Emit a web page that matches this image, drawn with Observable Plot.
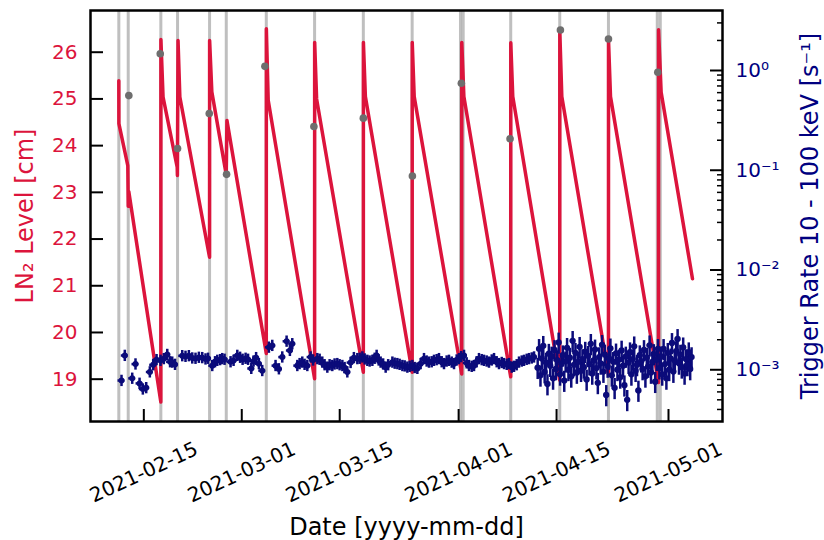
<!DOCTYPE html>
<html><head><meta charset="utf-8">
<script src="https://cdn.jsdelivr.net/npm/d3@7"></script>
<script src="https://cdn.jsdelivr.net/npm/@observablehq/plot@0.6"></script>
<style>
body{margin:0;background:#fff;font-family:"DejaVu Sans",sans-serif;}
#wrap{position:relative;width:824px;height:540px;}
#wrap svg{position:absolute;left:0;top:0;}
</style></head><body><div id="wrap"></div>
<script>
// All day offsets are relative to 2021-02-15 00:00 UTC
const BASE = Date.UTC(2021, 1, 15);
const toDate = d => new Date(BASE + d * 864e5);

// x-axis ticks
const dateTickLabels = ["2021-02-15","2021-03-01","2021-03-15","2021-04-01","2021-04-15","2021-05-01"];
// left axis ticks
const levelTicks = [19,20,21,22,23,24,25,26];
// right axis ticks
const rateMajorTicks = [1e-3, 1e-2, 1e-1, 1];
const rateTickLabels = ["10⁻³","10⁻²","10⁻¹","10⁰"];

// LN2 level (cm)
const lnDay = [-3.575,-3.565,-2.29,-2.23,-2.15,2.431, 2.44,2.75,4.77,4.80, 4.89,5.15,9.397, 9.405,9.72,11.78,11.88,17.506,
  17.515,17.78,24.41, 24.42,24.70,31.378, 31.388,31.67,38.358, 38.368,38.65,45.44, 45.45,45.75,52.445,
  52.455,52.74,59.453, 59.463,59.75,66.418, 66.428,66.71,73.57, 73.58,73.95,78.43];
const lnLevel = [25.39,24.47,23.57,22.70,23.02,18.51, 26.27,25.04,23.54,23.36, 26.25,25.04,21.61, 26.25,25.15,23.38,24.54,19.55,
  26.50,24.97,19.01, 26.21,25.00,19.15, 26.21,25.05,19.15, 26.21,25.05,19.11, 26.21,25.05,19.05,
  26.20,25.05,18.98, 26.44,25.05,19.10, 26.25,25.05,18.93, 26.48,25.14,21.15];

// calibration periods (vertical gray lines)
const calDay = [-3.575,-2.231,2.431,4.82,9.397,11.785,17.506,24.41,31.378,38.358,45.266,45.652,52.445,59.453,66.418,73.397,73.826];
// calibration rates (gray dots), s^-1
const calDotDay = [-2.145,2.346,4.82,9.353,11.83,17.31,24.31,31.38,38.39,45.39,52.35,59.55,66.42,73.47];
const calDotRate = [0.56,1.47,0.165,0.37,0.091,1.10,0.275,0.333,0.0877,0.746,0.207,2.55,2.07,0.96];

// trigger rate 10-100 keV, in units of 1e-3 s^-1 — long bins
const rateDayA = [-3.19,-2.72,-1.66,-1.19,-0.61,-0.14,0.34,0.86,1.34,1.82,2.39,2.86,3.35,3.75,4.06,4.46,5.49,5.96,6.44,6.92,
  7.39,7.87,8.35,8.82,9.18,9.78,10.18,10.50,10.90,11.21,11.54,12.40,12.83,13.36,13.76,14.12,14.55,14.90,15.36,15.69,
  16.05,16.45,16.93,17.88,18.36,18.83,19.31,19.79,20.41,20.88,21.22,21.94,22.27,22.65,22.98,23.37,23.84,24.20,24.80,25.13,
  25.51,25.84,26.23,26.56,26.94,27.27,27.66,27.99,28.38,28.70,29.09,29.56,30.03,30.52,30.85,31.24,31.57,31.95,32.28,32.67,
  33.00,33.28,33.57,33.85,34.21,34.57,34.93,35.53,35.86,36.24,36.57,36.96,37.29,37.67,38.00,38.39,38.72,39.10,39.57,40.05,
  40.43,40.76,41.15,41.48,41.86,42.19,42.58,42.91,43.29,43.62,44.01,44.34,44.72,45.05,45.37,45.77,46.15,46.48,46.87,47.20,
  47.58,47.91,48.30,48.63,49.01,49.34,49.73,50.06,50.44,50.77,51.16,51.49,51.87,52.20,52.59,52.92,53.30,53.63,54.02,54.35,
  54.73,55.06,55.45,55.78];
const rateA = [0.78,1.39,0.82,1.14,0.73,0.64,0.66,0.95,1.12,1.26,1.24,1.29,1.42,1.20,1.19,1.13,1.38,1.36,1.38,1.31,
  1.30,1.33,1.32,1.28,1.30,1.10,1.20,1.24,1.26,1.29,1.27,1.20,1.24,1.39,1.33,1.27,1.30,1.27,1.03,1.22,
  1.32,1.15,0.98,1.68,1.75,1.10,1.02,1.34,1.93,1.56,1.82,1.10,1.15,1.19,1.13,1.10,1.34,1.25,1.29,1.27,
  1.19,1.12,1.06,1.12,1.10,1.14,1.15,1.12,1.10,1.05,0.95,1.18,1.32,1.29,1.30,1.34,1.28,1.24,1.22,1.24,
  1.30,1.39,1.25,1.19,1.14,1.06,1.12,1.19,1.16,1.15,1.13,1.10,1.09,1.06,1.08,1.10,1.05,1.03,1.15,1.29,
  1.22,1.19,1.20,1.24,1.26,1.29,1.20,1.15,1.22,1.24,1.19,1.15,1.25,1.29,1.35,1.39,1.17,1.10,1.08,1.10,
  1.20,1.29,1.26,1.24,1.22,1.19,1.25,1.29,1.20,1.15,1.18,1.15,1.13,1.15,1.06,1.08,1.12,1.19,1.22,1.24,
  1.27,1.29,1.31,1.34];
// short bins (from ~2021-04-08)
const rateDayB = [56.3,56.5,56.7,56.9,57.1,57.3,57.5,57.7,57.9,58.1, 58.3,58.5,58.7,58.9,59.1,59.3,59.5,59.7,59.9,60.1,
  60.3,60.5,60.7,60.9,61.1,61.3,61.5,61.7,61.9,62.1, 62.3,62.5,62.7,62.9,63.1,63.3,63.5,63.7,63.9,64.1,
  64.3,64.5,64.7,64.9,65.1,65.3,65.5,65.7,65.9,66.1, 66.3,66.5,66.7,66.9,67.1,67.3,67.5,67.7,67.9,68.1,
  68.3,68.5,68.7,68.9,69.1,69.3,69.5,69.7,69.9,70.1, 70.3,70.5,70.7,70.9,71.1,71.3,71.5,71.7,71.9,72.1,
  72.3,72.5,72.7,72.9,73.1,73.3,73.5,73.7,73.9,74.1, 74.3,74.5,74.7,74.9,75.1,75.3,75.5,75.7,75.9,76.1,
  76.3,76.5,76.7,76.9,77.1,77.3,77.5,77.7,77.9,78.1,78.3];
const rateB = [1.05,1.62,0.88,1.30,1.74,0.95,1.18,0.72,1.45,1.10, 1.36,0.82,1.58,1.02,1.25,1.88,0.90,1.15,1.40,0.78,
  1.22,1.66,1.00,1.32,0.86,1.95,1.12,1.48,0.94,1.20, 1.70,0.98,1.28,1.06,1.52,0.80,1.38,1.14,1.82,0.92,
  1.24,1.60,1.04,0.74,1.34,1.16,1.78,0.96,1.42,0.56, 1.08,1.30,1.64,0.88,1.20,0.66,1.46,1.00,1.26,0.84,
  1.56,1.10,0.70,1.36,0.50,1.18,1.50,0.90,1.28,1.72, 0.98,1.12,0.62,1.40,1.22,1.02,1.58,0.86,1.32,1.08,
  1.76,0.94,1.20,1.44,0.76,1.26,1.62,1.04,1.36,0.90, 1.62,1.14,0.82,1.48,1.00,1.30,1.86,0.96,1.24,1.54,
  2.04,1.16,1.42,1.06,1.68,0.92,1.28,1.12,1.50,1.02,1.34];
const RATE_UNIT = 1e-3;
const relErrA = 0.13, relErrB = 0.24;   // relative statistical errors
const halfBinA = 0.5, halfBinB = 0.35;  // half bin widths (days)

// ---- rows built from the arrays ----
const levelRows = lnDay.map((d, i) => ({t: toDate(d), v: lnLevel[i]}));
const calRows = calDay.map(toDate);
const calDotRows = calDotDay.map((d, i) => ({t: toDate(d), v: calDotRate[i]}));
const mk = (days, vals, e, h, r) => days.map((d, i) => {
  const v = vals[i] * RATE_UNIT;
  return {t: toDate(d), t1: toDate(d - h), t2: toDate(d + h), v, lo: v * (1 - e), hi: v * (1 + e), r};
});
const rateRows = mk(rateDayA, rateA, relErrA, halfBinA, 3).concat(mk(rateDayB, rateB, relErrB, halfBinB, 3.3));
const dateTicks = dateTickLabels.map(s => new Date(s + "T00:00:00Z"));
const minorTicks = [];
for (const dec of [1e-4, 1e-3, 1e-2, 1e-1, 1]) for (let k = 2; k <= 9; k++) {
  const v = k * dec; if (v > 3.03e-4 && v < 3.99) minorTicks.push(v);
}

const FONT = "'DejaVu Sans', sans-serif";
const NAVY = "#0b0b7a";
const common = {
  width: 824, height: 540, marginLeft: 90, marginRight: 102, marginTop: 10, marginBottom: 119,
  style: {fontFamily: FONT, background: "transparent", overflow: "visible"}
};
const xScale = {type: "utc", domain: [toDate(-7.623), toDate(82.72)]};

const levelPlot = Plot.plot({
  ...common,
  x: xScale,
  y: {domain: [18.094, 26.893]},
  marks: [
    Plot.ruleX(calRows, {x: d => d, stroke: "#808080", strokeOpacity: 0.5, strokeWidth: 3}),
    Plot.line(levelRows, {x: "t", y: "v", stroke: "#dc143c", strokeWidth: 3.5, strokeLinejoin: "round"}),
    Plot.axisY(levelTicks, {anchor: "left", tickSize: 13, dx: 13, tickFormat: () => "", label: null, stroke: "black", strokeWidth: 2}),
    Plot.axisY(levelTicks, {anchor: "left", tickSize: 0, tickPadding: 13, fontSize: 20, fill: "#dc143c", label: null}),
    Plot.axisX(dateTicks, {anchor: "bottom", tickSize: 12, dy: -12, tickFormat: () => "", label: null, stroke: "black", strokeWidth: 2}),
    Plot.text(dateTicks, {x: d => d, frameAnchor: "bottom", dy: 51, rotate: -25, text: (d, i) => dateTickLabels[i],
      fontSize: 20, fill: "black", textAnchor: "middle", lineAnchor: "middle"}),
    Plot.text(["Date [yyyy-mm-dd]"], {frameAnchor: "bottom", dy: 106, fontSize: 24, fill: "black", textAnchor: "middle", lineAnchor: "middle"}),
    Plot.text(["LN₂ Level [cm]"], {frameAnchor: "left", dx: -65, rotate: -90, fontSize: 24, fill: "#dc143c", textAnchor: "middle", lineAnchor: "middle"}),
    Plot.frame({stroke: "black", strokeWidth: 2.5})
  ]
});

const ratePlot = Plot.plot({
  ...common,
  x: {...xScale, axis: null},
  y: {type: "log", domain: [3.03e-4, 3.994]},
  marks: [
    Plot.ruleX(rateRows, {x: "t", y1: "lo", y2: "hi", stroke: NAVY, strokeWidth: 2.5}),
    Plot.ruleY(rateRows, {y: "v", x1: "t1", x2: "t2", stroke: NAVY, strokeWidth: 2.5}),
    Plot.dot(rateRows, {x: "t", y: "v", r: "r", fill: NAVY}),
    Plot.dot(calDotRows, {x: "t", y: "v", r: 3.8, fill: "#6e6e6e"}),
    Plot.axisY(minorTicks, {anchor: "right", tickSize: 6, dx: -6, tickFormat: () => "", label: null, stroke: "black", strokeWidth: 1.5}),
    Plot.axisY(rateMajorTicks, {anchor: "right", tickSize: 13, dx: -13, tickFormat: () => "", label: null, stroke: "black", strokeWidth: 2}),
    Plot.axisY(rateMajorTicks, {anchor: "right", tickSize: 0, tickPadding: 13, fontSize: 20, fill: "#000080", label: null,
      tickFormat: d => rateTickLabels[rateMajorTicks.indexOf(d)]}),
    Plot.text(["Trigger Rate 10 - 100 keV [s⁻¹]"], {frameAnchor: "right", dx: 88, rotate: -90, fontSize: 24, fill: "#000080",
      textAnchor: "middle", lineAnchor: "middle"})
  ]
});

const wrap = document.getElementById("wrap");
wrap.appendChild(levelPlot);
wrap.appendChild(ratePlot);
</script>
</body></html>
